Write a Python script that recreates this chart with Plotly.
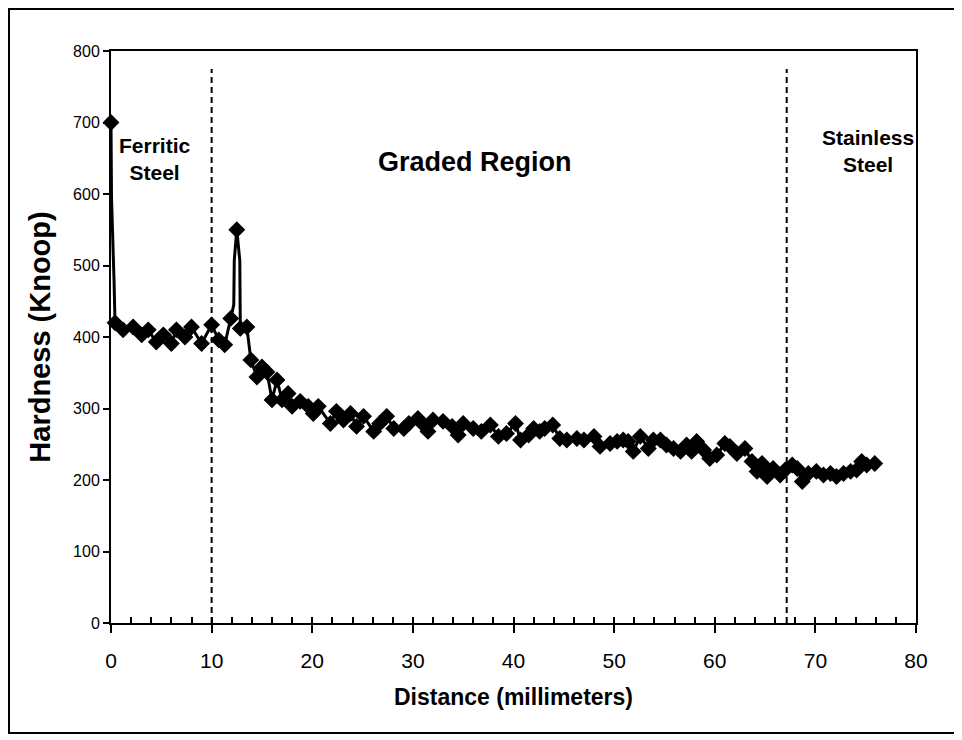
import plotly.graph_objects as go

# Data
distance_mm = [0, 0.05, 0.3, 0.4, 1.2, 2.2, 3.05, 3.7, 4.5, 5.2, 6.0, 6.5, 7.35, 8.0, 9.0, 10.0,
               10.7, 11.3, 11.9, 12.2, 12.25, 12.5, 12.8, 12.85, 13.5, 13.9, 14.5, 15.0, 15.5, 16.0,
               16.5, 17.0, 17.6, 18.0, 18.8, 19.6, 20.1, 20.6, 21.8, 22.4, 23.1, 23.8, 24.4,
               25.1, 26.1, 26.7, 27.4, 28.1, 29.1, 29.6, 30.5, 31.0, 31.5, 32.0, 33.0, 33.9,
               34.5, 35.0, 36.0, 36.8, 37.7, 38.5, 39.3, 40.2, 40.7, 41.5, 42.0, 42.6, 43.1,
               43.9, 44.6, 45.3, 46.3, 47.0, 48.0, 48.6, 49.6, 50.3, 50.9, 51.4, 51.9, 52.6,
               53.4, 53.9, 54.6, 55.2, 55.9, 56.6, 57.2, 57.7, 58.2, 58.9, 59.5, 60.2, 61.0,
               61.5, 62.2, 63.0, 63.7, 64.2, 64.7, 65.2, 65.8, 66.5, 67.0, 67.7, 68.2, 68.7,
               69.3, 70.1, 70.8, 71.5, 72.1, 72.8, 73.5, 74.1, 74.6, 75.1, 75.9]
hardness_knoop = [700, 595, 480, 420, 410, 414, 403, 410, 393, 403, 391, 410, 400, 414, 391, 417,
                  396, 389, 426, 445, 507, 550, 507, 412, 414, 368, 344, 358, 351, 312,
                  340, 312, 321, 303, 310, 303, 293, 303, 279, 296, 284, 293, 275,
                  289, 268, 279, 289, 272, 272, 279, 286, 278, 268, 284, 282, 275,
                  263, 279, 272, 268, 277, 261, 265, 279, 256, 263, 272, 268, 272,
                  277, 258, 256, 258, 256, 261, 247, 251, 254, 256, 254, 240, 261,
                  244, 256, 256, 249, 244, 240, 249, 240, 254, 242, 230, 235, 251,
                  247, 237, 244, 226, 212, 223, 205, 216, 207, 214, 221, 216, 198,
                  209, 212, 207, 209, 205, 209, 212, 214, 226, 221, 223]
# points drawn by the line only (no visible marker in the reference)
unmarked_points = [1, 2, 19, 20, 22]

region_boundaries = [10, 67.15]
boundary_top = 775
region_labels = ["Ferritic<br>Steel", "Graded Region", "Stainless<br>Steel"]
region_label_x = [4.4, 36.2, 75.2]
region_label_y = [649, 645, 660]
x_ticks = [0, 10, 20, 30, 40, 50, 60, 70, 80]
y_ticks = [0, 100, 200, 300, 400, 500, 600, 700, 800]

FONT = "Liberation Sans, Arial, sans-serif"
MARKER = 13
marker_sizes = [0 if i in unmarked_points else MARKER for i in range(len(distance_mm))]

fig = go.Figure()
fig.add_trace(go.Scatter(
    x=distance_mm, y=hardness_knoop, mode="lines+markers",
    line=dict(color="black", width=3),
    marker=dict(symbol="diamond", size=marker_sizes, color="black", opacity=1,
                line=dict(width=0)),
    showlegend=False, cliponaxis=False,
))
# overlay axis carrying the inside minor ticks
fig.add_trace(go.Scatter(x=[None], y=[None], xaxis="x2", showlegend=False))

for xb in region_boundaries:
    fig.add_shape(type="line", x0=xb, x1=xb, y0=0, y1=boundary_top, xref="x", yref="y",
                  line=dict(color="black", width=2, dash="6px,4px"), layer="below")

sizes = [21, 27, 21]
for txt, lx, ly, s in zip(region_labels, region_label_x, region_label_y, sizes):
    fig.add_annotation(x=lx, y=ly, text="<b>" + txt + "</b>", showarrow=False,
                       xref="x", yref="y",
                       font=dict(family=FONT, size=s, color="black"))

# outer frame
fig.add_shape(type="rect", xref="paper", yref="paper", x0=-0.1267, x1=1.0497,
              y0=-0.1923, y1=1.0734, line=dict(color="black", width=2))

fig.update_layout(
    width=962, height=740,
    margin=dict(l=103, r=54, t=43, b=125),
    paper_bgcolor="white", plot_bgcolor="white",
    font=dict(family=FONT, color="black"),
    xaxis=dict(
        range=[0, 80], tickvals=x_ticks, ticks="outside", ticklen=8, tickwidth=2,
        tickcolor="black", showline=True, linecolor="black", linewidth=2, mirror=True,
        showgrid=False, zeroline=False,
        tickprefix="<b>", ticksuffix="</b>",
        tickfont=dict(family=FONT, size=21, color="black"),
        title=dict(text="<b>Distance (millimeters)</b>",
                   font=dict(family=FONT, size=23, color="black"), standoff=18),
        ticklabelstandoff=10,
    ),
    xaxis2=dict(
        range=[0, 80], overlaying="x", matches="x", dtick=2, ticks="inside", ticklen=6,
        tickwidth=2, tickcolor="black", showticklabels=False, showgrid=False,
        zeroline=False, side="bottom", showline=False,
    ),
    yaxis=dict(
        range=[0, 800], tickvals=y_ticks, ticks="outside", ticklen=6, tickwidth=2,
        tickcolor="black", showline=True, linecolor="black", linewidth=2, mirror=True,
        showgrid=False, zeroline=False,
        tickprefix="<b>", ticksuffix="</b>",
        tickfont=dict(family=FONT, size=16, color="black"),
        title=dict(text="<b>Hardness (Knoop)</b>",
                   font=dict(family=FONT, size=29, color="black"), standoff=14),
    ),
)

fig.write_html("out.html")
